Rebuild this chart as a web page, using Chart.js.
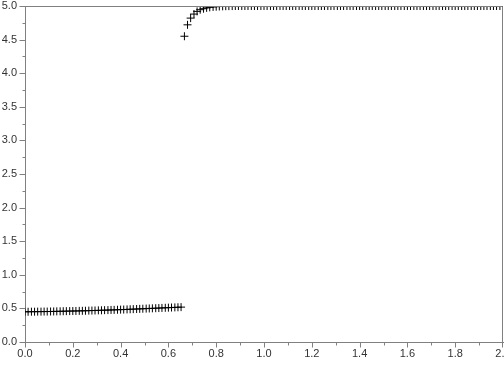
<!DOCTYPE html>
<html>
<head>
<meta charset="utf-8">
<script src="https://cdn.jsdelivr.net/npm/chart.js@4/dist/chart.umd.min.js"></script>
<style>
  html, body { margin: 0; padding: 0; background: #fff; overflow: hidden; }
  #wrap { width: 504px; height: 383px; }
</style>
</head>
<body>
<div id="wrap"><canvas id="plotChart"></canvas></div>
<script>
// lower branch, x from 0 up to the jump
var lowX = [0.000, 0.013, 0.027, 0.040, 0.053, 0.067, 0.080, 0.093, 0.107, 0.120,
            0.133, 0.147, 0.160, 0.173, 0.187, 0.200, 0.213, 0.227, 0.240, 0.253,
            0.267, 0.280, 0.293, 0.307, 0.320, 0.333, 0.347, 0.360, 0.373, 0.387,
            0.400, 0.413, 0.427, 0.440, 0.453, 0.467, 0.480, 0.493, 0.507, 0.520,
            0.533, 0.547, 0.560, 0.573, 0.587, 0.600, 0.613, 0.627, 0.640, 0.653];
var lowY = [0.450, 0.450, 0.451, 0.451, 0.452, 0.452, 0.453, 0.453, 0.454, 0.455,
            0.456, 0.457, 0.458, 0.459, 0.460, 0.461, 0.462, 0.463, 0.464, 0.465,
            0.467, 0.468, 0.469, 0.471, 0.472, 0.474, 0.475, 0.477, 0.478, 0.480,
            0.482, 0.483, 0.485, 0.487, 0.489, 0.491, 0.493, 0.495, 0.497, 0.499,
            0.501, 0.503, 0.505, 0.507, 0.509, 0.511, 0.513, 0.515, 0.517, 0.519];

// upper branch, from the jump to 2.0
var highX = [0.667, 0.680, 0.693, 0.707, 0.720, 0.733, 0.747, 0.760, 0.773, 0.787,
             0.800, 0.813, 0.827, 0.840, 0.853, 0.867, 0.880, 0.893, 0.907, 0.920,
             0.933, 0.947, 0.960, 0.973, 0.987, 1.000, 1.013, 1.027, 1.040, 1.053,
             1.067, 1.080, 1.093, 1.107, 1.120, 1.133, 1.147, 1.160, 1.173, 1.187,
             1.200, 1.213, 1.227, 1.240, 1.253, 1.267, 1.280, 1.293, 1.307, 1.320,
             1.333, 1.347, 1.360, 1.373, 1.387, 1.400, 1.413, 1.427, 1.440, 1.453,
             1.467, 1.480, 1.493, 1.507, 1.520, 1.533, 1.547, 1.560, 1.573, 1.587,
             1.600, 1.613, 1.627, 1.640, 1.653, 1.667, 1.680, 1.693, 1.707, 1.720,
             1.733, 1.747, 1.760, 1.773, 1.787, 1.800, 1.813, 1.827, 1.840, 1.853,
             1.867, 1.880, 1.893, 1.907, 1.920, 1.933, 1.947, 1.960, 1.973, 1.987,
             2.000];
var highY = [4.550, 4.720, 4.820, 4.880, 4.920, 4.945, 4.960, 4.972, 4.980, 4.986,
             4.990, 4.993, 4.995, 4.997, 4.998, 4.999, 5.000, 5.000, 5.000, 5.000,
             5.000, 5.000, 5.000, 5.000, 5.000, 5.000, 5.000, 5.000, 5.000, 5.000,
             5.000, 5.000, 5.000, 5.000, 5.000, 5.000, 5.000, 5.000, 5.000, 5.000,
             5.000, 5.000, 5.000, 5.000, 5.000, 5.000, 5.000, 5.000, 5.000, 5.000,
             5.000, 5.000, 5.000, 5.000, 5.000, 5.000, 5.000, 5.000, 5.000, 5.000,
             5.000, 5.000, 5.000, 5.000, 5.000, 5.000, 5.000, 5.000, 5.000, 5.000,
             5.000, 5.000, 5.000, 5.000, 5.000, 5.000, 5.000, 5.000, 5.000, 5.000,
             5.000, 5.000, 5.000, 5.000, 5.000, 5.000, 5.000, 5.000, 5.000, 5.000,
             5.000, 5.000, 5.000, 5.000, 5.000, 5.000, 5.000, 5.000, 5.000, 5.000,
             5.000];

var xTickLabels = ['0.0', '0.2', '0.4', '0.6', '0.8', '1.0', '1.2', '1.4', '1.6', '1.8', '2.0'];
var yTickLabels = ['0.0', '0.5', '1.0', '1.5', '2.0', '2.5', '3.0', '3.5', '4.0', '4.5', '5.0'];

var axisColor = '#808080';
var textColor = '#333333';

function toPoints(xs, ys) {
    var pts = [];
    for (var i = 0; i < xs.length; i++) {
        pts.push({x: xs[i], y: ys[i]});
    }
    return pts;
}

function isMajor(value, step) {
    var idx = Math.round(value / step);
    return Math.abs(idx * step - value) < 1e-6;
}

// only every second tick gets a label, the others are minor ticks
function majorLabel(labels, step) {
    return function (value) {
        if (!isMajor(value, step)) return '';
        var idx = Math.round(value / step);
        return labels[idx] !== undefined ? labels[idx] : '';
    };
}

// grey frame on top and right, plus outward ticks (long major, short minor)
var frameAndTicks = {
    id: 'frameAndTicks',
    afterDraw: function (chart) {
        var a = chart.chartArea;
        var ctx = chart.ctx;
        var left = Math.round(a.left) + 0.5;
        var bottom = Math.round(a.bottom) + 0.5;
        ctx.save();
        ctx.strokeStyle = axisColor;
        ctx.lineWidth = 1;
        ctx.beginPath();
        ctx.moveTo(left, Math.round(a.top) + 0.5);
        ctx.lineTo(Math.round(a.right) - 0.5, Math.round(a.top) + 0.5);
        ctx.lineTo(Math.round(a.right) - 0.5, bottom);

        var xs = chart.scales.x;
        xs.ticks.forEach(function (t) {
            var px = Math.round(xs.getPixelForValue(t.value)) + 0.5;
            if (px > a.right) px = Math.round(a.right) - 0.5;
            var len = isMajor(t.value, 0.2) ? 5 : 3;
            ctx.moveTo(px, bottom);
            ctx.lineTo(px, bottom + len);
        });
        var ys = chart.scales.y;
        ys.ticks.forEach(function (t) {
            var py = Math.round(ys.getPixelForValue(t.value)) + 0.5;
            var len = isMajor(t.value, 0.5) ? 6 : 3;
            ctx.moveTo(left, py);
            ctx.lineTo(left - len, py);
        });
        ctx.stroke();
        ctx.restore();
    }
};

var pointStyle = {
    showLine: false,
    pointStyle: 'cross',
    pointRadius: 4,
    pointBorderWidth: 1,
    pointBorderColor: '#000',
    pointBackgroundColor: '#000',
    clip: 0
};

var ctx = document.getElementById('plotChart');
var myChart = new Chart(ctx, {
    type: 'scatter',
    data: {
        datasets: [
            Object.assign({label: 'lower', data: toPoints(lowX, lowY)}, pointStyle),
            Object.assign({label: 'upper', data: toPoints(highX, highY)}, pointStyle)
        ]
    },
    plugins: [frameAndTicks],
    options: {
        responsive: true,
        maintainAspectRatio: false,
        animation: false,
        layout: {autoPadding: false, padding: {left: 1, right: 1, top: 0, bottom: 21}},
        plugins: {
            legend: {display: false},
            tooltip: {enabled: false}
        },
        scales: {
            x: {
                type: 'linear',
                min: 0,
                max: 2,
                border: {display: true, color: axisColor, width: 1},
                grid: {drawOnChartArea: false, drawTicks: false},
                afterFit: function (scale) {
                    scale.height = 20;
                    scale.paddingLeft = 0;
                    scale.paddingRight = 0;
                },
                ticks: {
                    stepSize: 0.1,
                    autoSkip: false,
                    maxRotation: 0,
                    padding: 5,
                    color: textColor,
                    font: {family: 'Liberation Sans', size: 11},
                    callback: majorLabel(xTickLabels, 0.2)
                }
            },
            y: {
                type: 'linear',
                min: 0,
                max: 5,
                border: {display: true, color: axisColor, width: 1},
                grid: {drawOnChartArea: false, drawTicks: false},
                afterFit: function (scale) {
                    scale.width = 24;
                    scale.paddingTop = 6;
                    scale.paddingBottom = 0;
                },
                ticks: {
                    stepSize: 0.25,
                    autoSkip: false,
                    padding: 8,
                    color: textColor,
                    font: {family: 'Liberation Sans', size: 11},
                    callback: majorLabel(yTickLabels, 0.5)
                }
            }
        }
    }
});
</script>
</body>
</html>
